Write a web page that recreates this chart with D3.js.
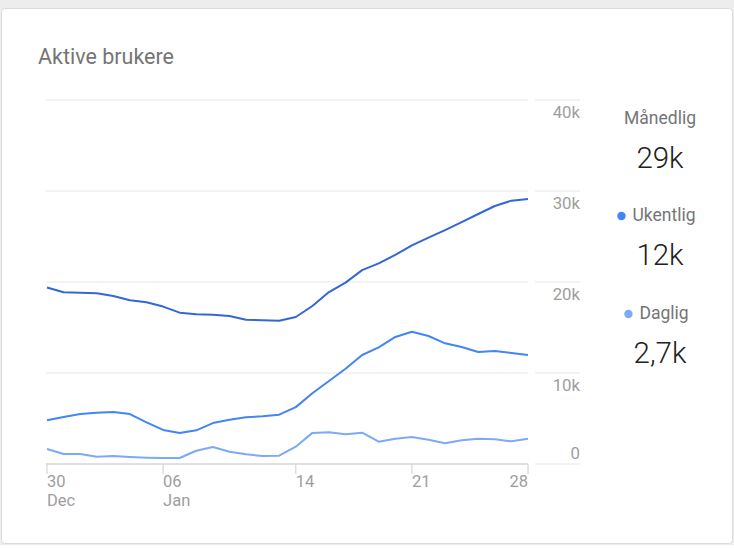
<!DOCTYPE html>
<html><head><meta charset="utf-8">
<script src="https://cdn.jsdelivr.net/npm/d3@7"></script>
<style>
html,body{margin:0;padding:0;background:#fff;}
svg{display:block;font-family:Roboto,"Noto Sans",sans-serif;}
</style></head>
<body>
<svg id="c" width="734" height="548"></svg>
<script>
const startDate = new Date(2018, 11, 30);
const monthly = [19.4,18.87,18.83,18.76,18.46,18.0,17.77,17.3,16.63,16.45,16.4,16.26,15.86,15.79,15.75,16.15,17.36,18.9,19.93,21.3,22.05,22.97,24.03,24.87,25.71,26.59,27.47,28.35,28.94,29.12];
const weekly = [4.8,5.16,5.49,5.64,5.71,5.49,4.58,3.74,3.41,3.7,4.5,4.87,5.13,5.24,5.42,6.25,7.77,9.12,10.47,11.98,12.82,13.96,14.54,14.07,13.26,12.86,12.31,12.42,12.2,11.98];
const daily = [1.65,1.1,1.1,0.8,0.88,0.77,0.7,0.66,0.66,1.46,1.87,1.35,1.06,0.88,0.91,1.9,3.42,3.48,3.26,3.44,2.45,2.78,2.97,2.67,2.27,2.6,2.78,2.71,2.49,2.78];
const yTicks = [0,10,20,30,40];
const yTickLabels = ["0","10k","20k","30k","40k"];
const xTickDays = [0,7,15,22,29];
const xTickLabels = [["30","Dec"],["06","Jan"],["14"],["21"],["28"]];
const legendNames = ["Månedlig","Ukentlig","Daglig"];
const legendValues = ["29k","12k","2,7k"];
const colors = ["#3367d6","#4285f4","#7baaf7"];
const title = "Aktive brukere";

const dates = monthly.map((_,i)=>d3.timeDay.offset(startDate,i));
const svg = d3.select("#c");

// page background / card
svg.append("rect").attr("x",0).attr("y",0).attr("width",734).attr("height",548).attr("fill","#ededed");
svg.append("rect").attr("x",0).attr("y",545).attr("width",734).attr("height",3).attr("fill","#fff");
svg.append("rect").attr("x",1.5).attr("y",8.5).attr("width",731).attr("height",535).attr("rx",3)
  .attr("fill","#fff").attr("stroke","#dcdcdc").attr("stroke-width",1);

svg.append("text").attr("x",38).attr("y",64).attr("font-size",21.5).attr("fill","#757575").text(title);

const x = d3.scaleTime().domain([dates[0],dates[dates.length-1]]).range([47,528]);
const y = d3.scaleLinear().domain([0,40]).range([464,100]);

// gridlines
const g = svg.append("g");
yTicks.forEach((t,i)=>{
  g.append("line").attr("x1",46).attr("x2",528).attr("y1",y(t)).attr("y2",y(t))
    .attr("stroke",t===0?"#d6d6d6":"#e8e8e8").attr("stroke-width",t===0?1.5:1.2);
  g.append("line").attr("x1",535).attr("x2",580).attr("y1",y(t)).attr("y2",y(t))
    .attr("stroke","#e8e8e8").attr("stroke-width",1.2);
  g.append("text").attr("x",580).attr("y",t===0? y(t)-5 : y(t)+18)
    .attr("text-anchor","end").attr("font-size",16.8).attr("fill","#9e9e9e").text(yTickLabels[i]);
});

// x ticks
xTickDays.forEach((d,i)=>{
  const xv = x(dates[d]);
  g.append("line").attr("x1",xv).attr("x2",xv).attr("y1",464).attr("y2",474)
    .attr("stroke","#d6d6d6").attr("stroke-width",1.2);
  const last = i===xTickDays.length-1;
  xTickLabels[i].forEach((s,j)=>{
    g.append("text").attr("x",xv).attr("y",486.5+j*19.5).attr("font-size",16.5).attr("fill","#9e9e9e")
      .attr("text-anchor",last?"end":"start").text(s);
  });
});

const line = d3.line().x((d,i)=>x(dates[i])).y(d=>y(d));
[daily,weekly,monthly].forEach((s,k)=>{
  svg.append("path").datum(s).attr("d",line).attr("fill","none")
    .attr("stroke",colors[2-k]).attr("stroke-width",2).attr("stroke-linejoin","round");
});

// legend
const ly = [118,215,313];
legendNames.forEach((n,i)=>{
  const cx = 660;
  const t = svg.append("text").attr("x",cx+(i===0?0:4)).attr("y",ly[i]+6).attr("text-anchor","middle")
    .attr("font-size",17.5).attr("fill","#757575").text(n);
  if(i>0){
    const w = t.node().getComputedTextLength();
    svg.append("circle").attr("cx",cx+4-w/2-11).attr("cy",ly[i]+1).attr("r",4.2).attr("fill",colors[i]);
  }
  svg.append("text").attr("x",cx).attr("y",ly[i]+50).attr("text-anchor","middle")
    .attr("font-size",29.5).attr("font-weight",300).attr("fill","#212121").text(legendValues[i]);
});
</script>
</body></html>
